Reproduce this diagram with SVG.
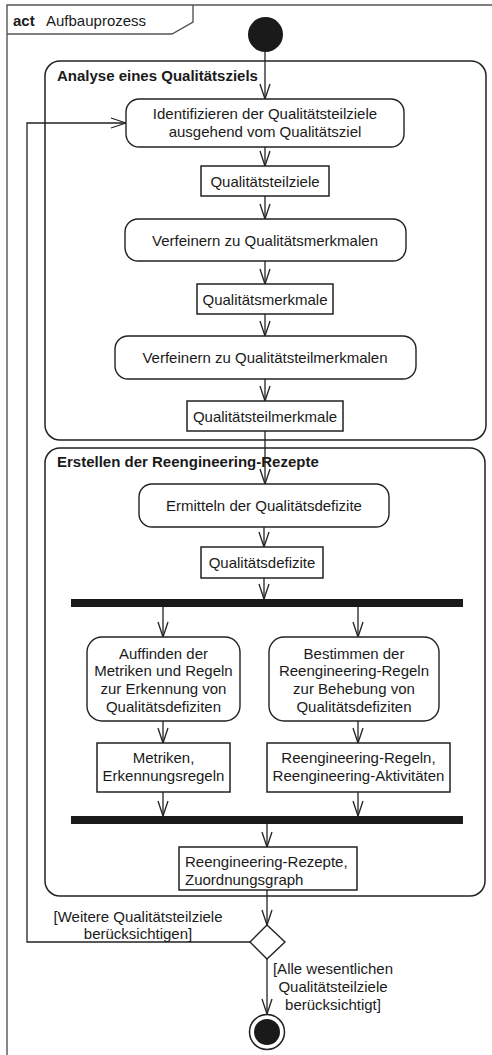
<svg xmlns="http://www.w3.org/2000/svg" width="492" height="1055" viewBox="0 0 492 1055">
  <style>
    text { font-family: "Liberation Sans", Arial, sans-serif; font-size: 15px; fill: #1a1a1a; }
    .b { font-weight: bold; }
    .c { text-anchor: middle; }
    .frame { fill: none; stroke: #555; stroke-width: 1.4; }
    .grp { fill: none; stroke: #222; stroke-width: 1.5; }
    .act { fill: #fff; stroke: #222; stroke-width: 1.4; }
    .obj { fill: #fff; stroke: #222; stroke-width: 1.5; }
    .bar { fill: #1a1a1a; }
    .edge { fill: none; stroke: #222; stroke-width: 1.3; marker-end: url(#open); }
    .line { fill: none; stroke: #222; stroke-width: 1.3; }
  </style>
  <defs>
    <marker id="open" viewBox="-1 -6 17 12" refX="15" refY="0" markerWidth="17" markerHeight="12" orient="auto" markerUnits="userSpaceOnUse">
      <path d="M0,-5 L15,0 L0,5" fill="none" stroke="#222" stroke-width="1.3"/>
    </marker>
  </defs>

  <rect width="492" height="1055" fill="#fff"/>

  <!-- activity frame -->
  <g id="frame">
    <path class="frame" d="M7,1055 L7,5 L492,5"/>
    <path class="frame" d="M7,34 L172,34 L193,22 L193,5"/>
    <text x="13" y="26" class="b">act</text>
    <text x="46" y="26">Aufbauprozess</text>
  </g>

  <!-- structured activity groups -->
  <g id="grp-analyse">
    <rect class="grp" x="45" y="61" width="441" height="379" rx="15"/>
    <text x="57" y="81" class="b">Analyse eines Qualitätsziels</text>
  </g>
  <g id="grp-erstellen">
    <rect class="grp" x="45" y="448" width="440" height="448" rx="15"/>
    <text x="57" y="467" class="b">Erstellen der Reengineering-Rezepte</text>
  </g>

  <!-- connectors -->
  <g id="connectors">
    <path class="edge" d="M265,52 L265,99"/>
    <path class="edge" d="M265,147 L265,166"/>
    <path class="edge" d="M265,196 L265,219"/>
    <path class="edge" d="M265,261 L265,284"/>
    <path class="edge" d="M265,314 L265,336"/>
    <path class="edge" d="M265,379 L265,401"/>
    <path class="edge" d="M265,431 L265,484"/>
    <path class="edge" d="M264,527 L264,547"/>
    <path class="edge" d="M264,578 L264,599"/>
    <path class="edge" d="M163,607 L163,637"/>
    <path class="edge" d="M358,607 L358,637"/>
    <path class="edge" d="M163,721 L163,743"/>
    <path class="edge" d="M358,721 L358,743"/>
    <path class="edge" d="M163,792 L163,816"/>
    <path class="edge" d="M358,792 L358,816"/>
    <path class="edge" d="M267,824 L267,847"/>
    <path class="edge" d="M267,890 L267,925"/>
    <path class="edge" d="M267,959 L267,1014"/>
    <path class="edge" d="M250,942 L27,942 L27,123 L126,123"/>
    <text x="138" y="921.5" class="c">[Weitere Qualitätsteilziele</text>
    <text x="138" y="938.5" class="c">berücksichtigen]</text>
    <text x="333" y="973.5" class="c">[Alle wesentlichen</text>
    <text x="333" y="991.5" class="c">Qualitätsteilziele</text>
    <text x="333" y="1009.5" class="c">berücksichtigt]</text>
  </g>

  <!-- nodes -->
  <g id="start">
    <circle cx="265.5" cy="34.5" r="17.5" fill="#1a1a1a"/>
  </g>
  <g id="identifizieren">
    <rect class="act" x="126" y="99" width="278" height="48" rx="13"/>
    <text x="265" y="119" class="c">Identifizieren der Qualitätsteilziele</text>
    <text x="265" y="137" class="c">ausgehend vom Qualitätsziel</text>
  </g>
  <g id="obj-teilziele">
    <rect class="obj" x="201" y="166" width="128" height="30"/>
    <text x="265" y="187" class="c">Qualitätsteilziele</text>
  </g>
  <g id="verfeinern-merkmale">
    <rect class="act" x="125" y="219" width="281" height="42" rx="13"/>
    <text x="265" y="245.5" class="c">Verfeinern zu Qualitätsmerkmalen</text>
  </g>
  <g id="obj-merkmale">
    <rect class="obj" x="197" y="284" width="136" height="30"/>
    <text x="265" y="304.5" class="c">Qualitätsmerkmale</text>
  </g>
  <g id="verfeinern-teilmerkmale">
    <rect class="act" x="115" y="336" width="301" height="43" rx="13"/>
    <text x="265" y="363" class="c">Verfeinern zu Qualitätsteilmerkmalen</text>
  </g>
  <g id="obj-teilmerkmale">
    <rect class="obj" x="187" y="401" width="156" height="30"/>
    <text x="265" y="421.5" class="c">Qualitätsteilmerkmale</text>
  </g>
  <g id="ermitteln">
    <rect class="act" x="139" y="484" width="250" height="43" rx="13"/>
    <text x="264" y="511" class="c">Ermitteln der Qualitätsdefizite</text>
  </g>
  <g id="obj-defizite">
    <rect class="obj" x="201" y="547" width="122" height="31"/>
    <text x="262" y="568" class="c">Qualitätsdefizite</text>
  </g>
  <g id="fork">
    <rect class="bar" x="71" y="599" width="392" height="8"/>
  </g>
  <g id="auffinden">
    <rect class="act" x="87" y="637" width="153" height="84" rx="15"/>
    <text x="163.5" y="658.5" class="c">Auffinden der</text>
    <text x="163.5" y="676" class="c">Metriken und Regeln</text>
    <text x="163.5" y="694" class="c">zur Erkennung von</text>
    <text x="163.5" y="711.5" class="c">Qualitätsdefiziten</text>
  </g>
  <g id="bestimmen">
    <rect class="act" x="269" y="637" width="170" height="84" rx="15"/>
    <text x="354" y="658.5" class="c">Bestimmen der</text>
    <text x="354" y="676" class="c">Reengineering-Regeln</text>
    <text x="354" y="694" class="c">zur Behebung von</text>
    <text x="354" y="711.5" class="c">Qualitätsdefiziten</text>
  </g>
  <g id="obj-metriken">
    <rect class="obj" x="97" y="743" width="133" height="49"/>
    <text x="163.5" y="762.5" class="c">Metriken,</text>
    <text x="163.5" y="780.5" class="c">Erkennungsregeln</text>
  </g>
  <g id="obj-regeln">
    <rect class="obj" x="267" y="743" width="183" height="49"/>
    <text x="358.5" y="762.5" class="c">Reengineering-Regeln,</text>
    <text x="358.5" y="780.5" class="c">Reengineering-Aktivitäten</text>
  </g>
  <g id="join">
    <rect class="bar" x="71" y="816" width="392" height="8"/>
  </g>
  <g id="obj-rezepte">
    <rect class="obj" x="179" y="847" width="178" height="43"/>
    <text x="185" y="866.5">Reengineering-Rezepte,</text>
    <text x="185" y="884.5">Zuordnungsgraph</text>
  </g>
  <g id="decision">
    <path class="act" d="M267,925 L285,942 L267,959 L250,942 Z"/>
  </g>
  <g id="end">
    <circle cx="267" cy="1032" r="17.5" fill="#fff" stroke="#222" stroke-width="1.5"/>
    <circle cx="267" cy="1032" r="13" fill="#1a1a1a"/>
  </g>
</svg>
